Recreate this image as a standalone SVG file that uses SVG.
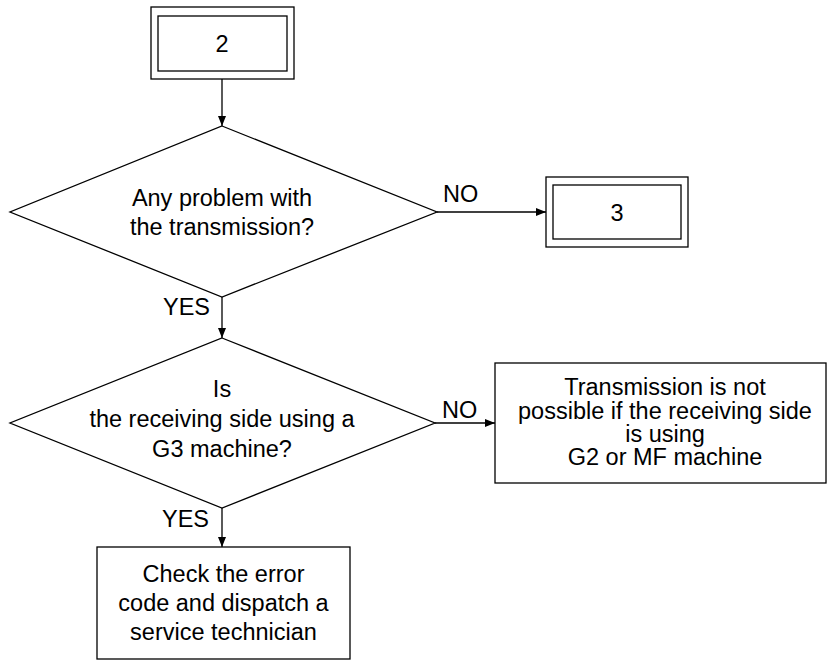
<svg xmlns="http://www.w3.org/2000/svg" width="827" height="661" viewBox="0 0 827 661">
<style>
.s{fill:#fff;stroke:#000;stroke-width:1.3}
.t{font-family:"Liberation Sans",Arial,sans-serif;font-size:23.5px;fill:#000;text-anchor:middle}
.l{font-family:"Liberation Sans",Arial,sans-serif;font-size:23.5px;fill:#000}
.c{fill:none;stroke:#000;stroke-width:1.3}
</style>
<defs>
<marker id="ah" viewBox="0 0 10 8" refX="10" refY="4" markerWidth="10" markerHeight="8" markerUnits="userSpaceOnUse" orient="auto">
<path d="M0,0 L10,4 L0,8 Z" fill="#000"/>
</marker>
</defs>
<rect width="827" height="661" fill="#fff"/>
<g id="connectors">
<line class="c" x1="222" y1="79" x2="222" y2="126" marker-end="url(#ah)"/>
<line class="c" x1="222" y1="297" x2="222" y2="338" marker-end="url(#ah)"/>
<line class="c" x1="222" y1="508" x2="222" y2="547" marker-end="url(#ah)"/>
<line class="c" x1="437" y1="212" x2="546" y2="212" marker-end="url(#ah)"/>
<line class="c" x1="435" y1="423" x2="495" y2="423" marker-end="url(#ah)"/>
<text class="l" x="443" y="202">NO</text>
<text class="l" x="442" y="418">NO</text>
<text class="l" x="163" y="315">YES</text>
<text class="l" x="162" y="527">YES</text>
</g>
<g id="start2">
<rect class="s" x="151" y="7" width="143" height="72"/>
<rect class="s" x="158" y="16" width="129" height="55"/>
<text class="t" x="222" y="52">2</text>
</g>
<g id="q1">
<polygon class="s" points="222,126 437,212 222,297 10,212"/>
<text class="t" x="222" y="206">Any problem with</text>
<text class="t" x="222" y="235">the transmission?</text>
</g>
<g id="goto3">
<rect class="s" x="546" y="177" width="142" height="70"/>
<rect class="s" x="553" y="185" width="128" height="54"/>
<text class="t" x="617" y="221">3</text>
</g>
<g id="q2">
<polygon class="s" points="222,338 435,423 222,508 10,423"/>
<text class="t" x="222" y="397">Is</text>
<text class="t" x="222" y="427">the receiving side using a</text>
<text class="t" x="222" y="457">G3 machine?</text>
</g>
<g id="notpossible">
<rect class="s" x="495" y="363" width="331" height="120"/>
<text class="t" x="665" y="395">Transmission is not</text>
<text class="t" x="665" y="419">possible if the receiving side</text>
<text class="t" x="665" y="442">is using</text>
<text class="t" x="665" y="465">G2 or MF machine</text>
</g>
<g id="dispatch">
<rect class="s" x="97" y="547" width="253" height="112"/>
<text class="t" x="223.5" y="582">Check the error</text>
<text class="t" x="223.5" y="611">code and dispatch a</text>
<text class="t" x="223.5" y="640">service technician</text>
</g>
</svg>
